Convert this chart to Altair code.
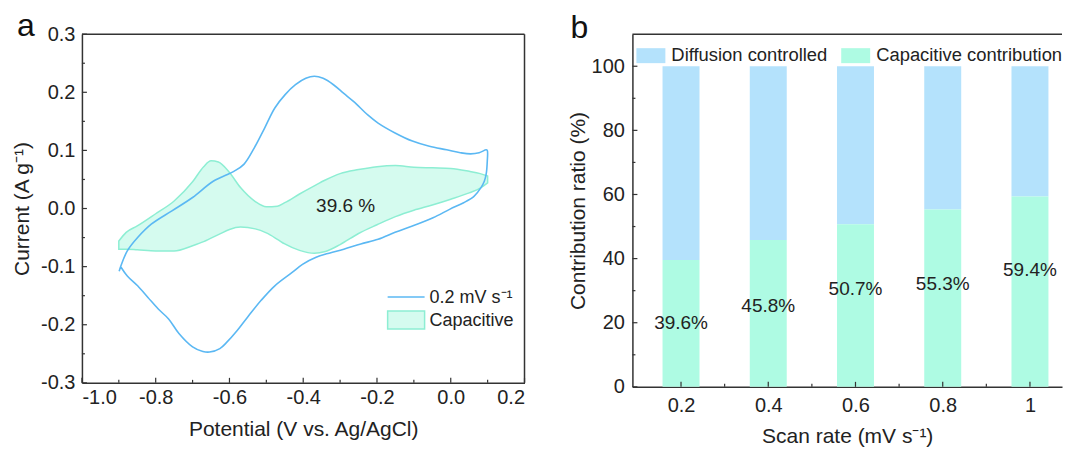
import altair as alt
import pandas as pd

# ---------------- Panel a: CV curve (0.2 mV s-1), traced in drawing order ----------------
cv_potential = [-0.899, -0.894, -0.877, -0.849, -0.812, -0.756, -0.700, -0.644, -0.588, -0.561,
                -0.533, -0.505, -0.477, -0.449, -0.421, -0.393, -0.370, -0.346, -0.318, -0.290,
                -0.263, -0.225, -0.197, -0.151, -0.104, -0.058, -0.011, 0.026, 0.054, 0.077,
                0.096, 0.099, 0.099, 0.096, 0.091, 0.082, 0.063, 0.035, -0.002, -0.048,
                -0.104, -0.151, -0.197, -0.244, -0.290, -0.337, -0.365, -0.402, -0.430, -0.477,
                -0.514, -0.551, -0.579, -0.607, -0.626, -0.654, -0.672, -0.700, -0.737, -0.765,
                -0.793, -0.821, -0.849, -0.877, -0.894]
cv_current = [-0.108, -0.098, -0.073, -0.050, -0.027, -0.004, 0.019, 0.047, 0.064, 0.076,
              0.104, 0.138, 0.173, 0.196, 0.213, 0.224, 0.2275, 0.224, 0.213, 0.198,
              0.184, 0.161, 0.147, 0.130, 0.116, 0.107, 0.101, 0.096, 0.094, 0.096,
              0.101, 0.100, 0.081, 0.059, 0.047, 0.036, 0.021, 0.010, -0.001, -0.016,
              -0.030, -0.041, -0.053, -0.061, -0.070, -0.078, -0.084, -0.096, -0.110, -0.133,
              -0.158, -0.187, -0.210, -0.230, -0.241, -0.247, -0.246, -0.238, -0.215, -0.190,
              -0.173, -0.153, -0.133, -0.116, -0.101]

# Capacitive region (upper / lower boundary at common potentials)
cap_potential = [-0.900, -0.880, -0.850, -0.800, -0.750, -0.700, -0.670, -0.650, -0.630, -0.600,
                 -0.570, -0.530, -0.500, -0.470, -0.450, -0.410, -0.370, -0.340, -0.300, -0.250,
                 -0.200, -0.150, -0.100, -0.050, 0.000, 0.050, 0.080, 0.100]
cap_upper = [-0.056, -0.041, -0.030, -0.009, 0.013, 0.046, 0.072, 0.082, 0.080, 0.062,
             0.036, 0.012, 0.003, 0.004, 0.010, 0.025, 0.039, 0.049, 0.060, 0.067,
             0.072, 0.074, 0.071, 0.070, 0.069, 0.064, 0.060, 0.056]
cap_lower = [-0.070, -0.070, -0.071, -0.073, -0.073, -0.064, -0.057, -0.051, -0.045, -0.036,
             -0.032, -0.035, -0.042, -0.053, -0.061, -0.072, -0.077, -0.074, -0.062, -0.043,
             -0.028, -0.014, -0.003, 0.006, 0.016, 0.027, 0.035, 0.044]

cap_text = ["39.6 %"]
cap_text_E = [-0.285]
cap_text_I = [0.004]

xa_major = [-1.0, -0.8, -0.6, -0.4, -0.2, 0.0, 0.2]
xa_minor = [-0.9, -0.7, -0.5, -0.3, -0.1, 0.1]
ya_major = [-0.3, -0.2, -0.1, 0.0, 0.1, 0.2, 0.3]
ya_minor = [-0.25, -0.15, -0.05, 0.05, 0.15, 0.25]

# ---------------- Panel b: contribution ratios ----------------
scan_rates = [0.2, 0.4, 0.6, 0.8, 1.0]
capacitive = [39.6, 45.8, 50.7, 55.3, 59.4]
label_y = [19.9, 25.2, 30.5, 32.1, 36.5]
xb_minor = [0.3, 0.5, 0.7, 0.9]
yb_major = [0, 20, 40, 60, 80, 100]
yb_minor = [10, 30, 50, 70, 90]

FONT = "Liberation Sans"
INK = "#222222"
FRAME = "#333333"
BLUE = "#5BB8F3"
CAP_FILL = "#D5FBEF"
CAP_STROKE = "#8DEED3"
BAR_DIFF = "#B4E2FC"
BAR_CAP = "#AEFBE3"

W_A, H_A = 443, 349
W_B, H_B = 430, 353

dummy = alt.Data(values=[{"d": 0}])

# ---------- panel a ----------
cv_df = pd.DataFrame({"E": cv_potential, "I": cv_current, "k": list(range(len(cv_potential)))})
cap_df = pd.DataFrame({"E": cap_potential, "hi": cap_upper, "lo": cap_lower})
txt_df = pd.DataFrame({"E": cap_text_E, "I": cap_text_I, "t": cap_text})

xa_scale = alt.Scale(domain=[-1.0, 0.2], nice=False, zero=False)
ya_scale = alt.Scale(domain=[-0.3, 0.3], nice=False, zero=False)
lab_expr = "replace(format(datum.value, '.1f'), '\u2212', '-')"
xa_axis = alt.Axis(values=xa_major, labelExpr=lab_expr, title="Potential (V vs. Ag/AgCl)",
                   ticks=False, grid=False, labelPadding=5, titlePadding=11,
                   domainColor=FRAME, domainWidth=1.5)
ya_axis = alt.Axis(values=ya_major, labelExpr=lab_expr, title="Current (A g\u207b\u00b9)",
                   ticks=False, grid=False, labelPadding=7, titlePadding=8,
                   domainColor=FRAME, domainWidth=1.5)

area = alt.Chart(cap_df).mark_area(
    fill=CAP_FILL, stroke=CAP_STROKE, strokeWidth=1.5, interpolate="monotone"
).encode(
    x=alt.X("E:Q", scale=xa_scale, axis=xa_axis),
    y=alt.Y("hi:Q", scale=ya_scale, axis=ya_axis),
    y2="lo:Q",
)
line = alt.Chart(cv_df).mark_line(color=BLUE, strokeWidth=1.6, interpolate="catmull-rom").encode(
    x=alt.X("E:Q", scale=xa_scale, axis=xa_axis),
    y=alt.Y("I:Q", scale=ya_scale, axis=ya_axis),
    order="k:Q",
)
pct = alt.Chart(txt_df).mark_text(fontSize=19, font=FONT, color=INK).encode(
    x=alt.X("E:Q", scale=xa_scale, axis=xa_axis),
    y=alt.Y("I:Q", scale=ya_scale, axis=ya_axis),
    text="t:N",
)
xa_tmaj = alt.Chart(pd.DataFrame({"E": xa_major})).mark_rule(color=FRAME, strokeWidth=1.2).encode(
    x=alt.X("E:Q", scale=xa_scale, axis=xa_axis), y=alt.value(H_A), y2=alt.value(H_A - 5))
xa_tmin = alt.Chart(pd.DataFrame({"E": xa_minor})).mark_rule(color=FRAME, strokeWidth=1.2).encode(
    x=alt.X("E:Q", scale=xa_scale, axis=xa_axis), y=alt.value(H_A), y2=alt.value(H_A - 3))
ya_tmaj = alt.Chart(pd.DataFrame({"I": ya_major})).mark_rule(color=FRAME, strokeWidth=1.2).encode(
    y=alt.Y("I:Q", scale=ya_scale, axis=ya_axis), x=alt.value(0), x2=alt.value(5))
ya_tmin = alt.Chart(pd.DataFrame({"I": ya_minor})).mark_rule(color=FRAME, strokeWidth=1.2).encode(
    y=alt.Y("I:Q", scale=ya_scale, axis=ya_axis), x=alt.value(0), x2=alt.value(3))
frame_top_a = alt.Chart(dummy).mark_rule(color=FRAME, strokeWidth=1.5).encode(
    x=alt.value(0), x2=alt.value(W_A), y=alt.value(0))
frame_right_a = alt.Chart(dummy).mark_rule(color=FRAME, strokeWidth=1.5).encode(
    x=alt.value(W_A), y=alt.value(0), y2=alt.value(H_A))

leg_line = alt.Chart(dummy).mark_rule(color=BLUE, strokeWidth=1.6).encode(
    x=alt.value(306), x2=alt.value(343), y=alt.value(263))
leg_rect = alt.Chart(dummy).mark_rect(fill=CAP_FILL, stroke=CAP_STROKE, strokeWidth=1.5).encode(
    x=alt.value(306), x2=alt.value(343), y=alt.value(277), y2=alt.value(295))
leg_t1 = alt.Chart(dummy).mark_text(text="0.2 mV s\u207b\u00b9", fontSize=18, font=FONT, color=INK,
                                    align="left", baseline="middle").encode(x=alt.value(348), y=alt.value(264))
leg_t2 = alt.Chart(dummy).mark_text(text="Capacitive", fontSize=18, font=FONT, color=INK,
                                    align="left", baseline="middle").encode(x=alt.value(348), y=alt.value(287))
tag_a = alt.Chart(dummy).mark_text(text="a", fontSize=32, font=FONT, color="#111111",
                                   align="left", baseline="alphabetic").encode(x=alt.value(-65), y=alt.value(2))

panel_a = alt.layer(area, line, pct, xa_tmaj, xa_tmin, ya_tmaj, ya_tmin, frame_top_a, frame_right_a,
                    leg_line, leg_rect, leg_t1, leg_t2, tag_a).properties(width=W_A, height=H_A)

# ---------- panel b ----------
bar_df = pd.DataFrame({
    "rate": scan_rates,
    "cap": capacitive,
    "top": [100.0] * len(scan_rates),
    "ly": label_y,
    "lbl": [f"{v:.1f}%" for v in capacitive],
})
xb_scale = alt.Scale(domain=[0.1, 1.062], nice=False, zero=False)
yb_scale = alt.Scale(domain=[0, 110], nice=False)
xb_axis = alt.Axis(values=scan_rates, labelExpr="datum.value == 1 ? '1' : format(datum.value, '.1f')",
                   title="Scan rate (mV s\u207b\u00b9)", ticks=False, grid=False, labelPadding=9,
                   titlePadding=10, domainColor=FRAME, domainWidth=1.5)
yb_axis = alt.Axis(values=yb_major, format="d", title="Contribution ratio (%)", ticks=False, grid=False,
                   labelPadding=8, titlePadding=3, domainColor=FRAME, domainWidth=1.5)

bar_cap = alt.Chart(bar_df).mark_bar(size=37, color=BAR_CAP).encode(
    x=alt.X("rate:Q", scale=xb_scale, axis=xb_axis),
    y=alt.Y("cap:Q", scale=yb_scale, axis=yb_axis),
)
bar_diff = alt.Chart(bar_df).mark_bar(size=37, color=BAR_DIFF).encode(
    x=alt.X("rate:Q", scale=xb_scale, axis=xb_axis),
    y=alt.Y("cap:Q", scale=yb_scale, axis=yb_axis),
    y2="top:Q",
)
bar_lbl = alt.Chart(bar_df).mark_text(fontSize=19, font=FONT, color=INK).encode(
    x=alt.X("rate:Q", scale=xb_scale, axis=xb_axis),
    y=alt.Y("ly:Q", scale=yb_scale, axis=yb_axis),
    text="lbl:N",
)
xb_tmaj = alt.Chart(pd.DataFrame({"rate": scan_rates})).mark_rule(color=FRAME, strokeWidth=1.2).encode(
    x=alt.X("rate:Q", scale=xb_scale, axis=xb_axis), y=alt.value(H_B), y2=alt.value(H_B - 5))
xb_tmin = alt.Chart(pd.DataFrame({"rate": xb_minor})).mark_rule(color=FRAME, strokeWidth=1.2).encode(
    x=alt.X("rate:Q", scale=xb_scale, axis=xb_axis), y=alt.value(H_B), y2=alt.value(H_B - 3))
yb_tmaj = alt.Chart(pd.DataFrame({"cap": yb_major})).mark_rule(color=FRAME, strokeWidth=1.2).encode(
    y=alt.Y("cap:Q", scale=yb_scale, axis=yb_axis), x=alt.value(0), x2=alt.value(5))
yb_tmin = alt.Chart(pd.DataFrame({"cap": yb_minor})).mark_rule(color=FRAME, strokeWidth=1.2).encode(
    y=alt.Y("cap:Q", scale=yb_scale, axis=yb_axis), x=alt.value(0), x2=alt.value(3))
frame_top_b = alt.Chart(dummy).mark_rule(color=FRAME, strokeWidth=1.5).encode(
    x=alt.value(0), x2=alt.value(W_B), y=alt.value(0))

leg_b1 = alt.Chart(dummy).mark_rect(fill=BAR_DIFF).encode(
    x=alt.value(4), x2=alt.value(33), y=alt.value(14), y2=alt.value(29))
leg_b2 = alt.Chart(dummy).mark_rect(fill=BAR_CAP).encode(
    x=alt.value(209), x2=alt.value(238), y=alt.value(14), y2=alt.value(29))
leg_bt1 = alt.Chart(dummy).mark_text(text="Diffusion controlled", fontSize=18.4, font=FONT, color=INK,
                                     align="left", baseline="middle").encode(x=alt.value(39), y=alt.value(21))
leg_bt2 = alt.Chart(dummy).mark_text(text="Capacitive contribution", fontSize=18.4, font=FONT, color=INK,
                                     align="left", baseline="middle").encode(x=alt.value(244), y=alt.value(21))
tag_b = alt.Chart(dummy).mark_text(text="b", fontSize=32, font=FONT, color="#111111",
                                   align="left", baseline="alphabetic").encode(x=alt.value(-62), y=alt.value(4))

panel_b = alt.layer(bar_diff, bar_cap, bar_lbl, xb_tmaj, xb_tmin, yb_tmaj, yb_tmin, frame_top_b,
                    leg_b1, leg_b2, leg_bt1, leg_bt2, tag_b).properties(width=W_B, height=H_B)

chart = alt.hconcat(panel_a, panel_b, spacing=108, bounds="flush").properties(
    padding={"left": 3, "top": 2, "right": 0, "bottom": 0}
).configure(background="white").configure_view(stroke=None).configure_axis(
    labelFont=FONT, titleFont=FONT, labelFontSize=20, titleFontSize=21,
    labelColor=INK, titleColor=INK, titleFontWeight="normal",
)

chart.save("out.html", embed_options={"renderer": "svg", "actions": False})
